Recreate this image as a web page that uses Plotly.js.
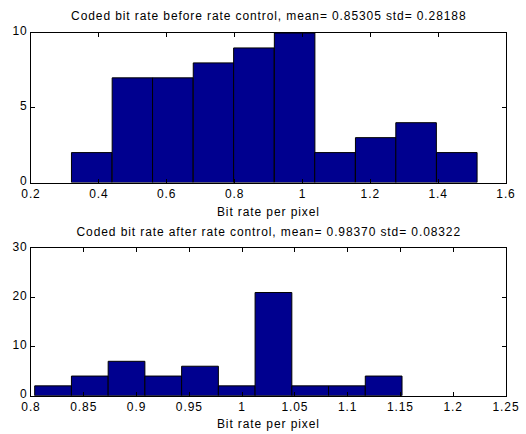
<!DOCTYPE html>
<html>
<head>
<meta charset="utf-8">
<script src="https://cdn.plot.ly/plotly-3.0.1.min.js"></script>
<style>
  html, body { margin: 0; padding: 0; background: #fff; }
  #chart { width: 526px; height: 434px; }
  .main-svg text { letter-spacing: 0.9px; }
</style>
</head>
<body>
<div id="chart"></div>
<script>
// ---- Data ----
// Top histogram: coded bit rate before rate control
var binCentersBefore = [0.379, 0.499, 0.618, 0.738, 0.857, 0.977, 1.096, 1.216, 1.335, 1.455];
var countsBefore     = [2, 7, 7, 8, 9, 10, 2, 3, 4, 2];
var binWidthBefore   = 0.1195;

// Bottom histogram: coded bit rate after rate control
var binCentersAfter = [0.8209, 0.8557, 0.8905, 0.9253, 0.9601, 0.9949, 1.0297, 1.0645, 1.0993, 1.1341];
var countsAfter     = [2, 4, 7, 4, 6, 2, 21, 2, 2, 4];
var binWidthAfter   = 0.0348;

var xTicksBefore  = [0.2, 0.4, 0.6, 0.8, 1.0, 1.2, 1.4, 1.6];
var xLabelsBefore = ["0.2", "0.4", "0.6", "0.8", "1", "1.2", "1.4", "1.6"];
var yTicksBefore  = [0, 5, 10];

var xTicksAfter  = [0.8, 0.85, 0.9, 0.95, 1.0, 1.05, 1.1, 1.15, 1.2, 1.25];
var xLabelsAfter = ["0.8", "0.85", "0.9", "0.95", "1", "1.05", "1.1", "1.15", "1.2", "1.25"];
var yTicksAfter  = [0, 10, 20, 30];

var titleBefore = "Coded bit rate before rate control, mean= 0.85305 std= 0.28188";
var titleAfter  = "Coded bit rate after rate control, mean= 0.98370 std= 0.08322";
var xLabelText  = "Bit rate per pixel";

// ---- Styling ----
var W = 526, H = 434;
var barColor = "#00008F";
var FONT = "Liberation Sans, Arial, Helvetica, sans-serif";
var fnt = {family: FONT, size: 12, color: "#000"};

function px2x(p) { return p / W; }
function px2y(p) { return 1 - p / H; }

var xDom = [px2x(31), px2x(506)];
var yDomTop = [px2y(182.5), px2y(33)];
var yDomBot = [px2y(395.7), px2y(248.3)];

var traces = [
  {
    type: "bar", x: binCentersBefore, y: countsBefore, width: binWidthBefore,
    xaxis: "x", yaxis: "y",
    marker: {color: barColor, line: {color: "#000", width: 1}},
    hoverinfo: "x+y"
  },
  {
    type: "bar", x: binCentersAfter, y: countsAfter, width: binWidthAfter,
    xaxis: "x2", yaxis: "y2",
    marker: {color: barColor, line: {color: "#000", width: 1}},
    hoverinfo: "x+y"
  }
];

function axBase() {
  return {
    showline: true, linecolor: "#000", linewidth: 1, mirror: "allticks",
    ticks: "inside", ticklen: 4, tickwidth: 1, tickcolor: "#000",
    showgrid: false, zeroline: false, fixedrange: true,
    tickfont: fnt
  };
}

var xa1 = Object.assign(axBase(), {
  domain: xDom, anchor: "y", range: [0.2, 1.6],
  tickmode: "array", tickvals: xTicksBefore, ticktext: xLabelsBefore
});
var ya1 = Object.assign(axBase(), {
  domain: yDomTop, anchor: "x", range: [0, 10],
  tickmode: "array", tickvals: yTicksBefore, ticklabelshift: -2
});
var xa2 = Object.assign(axBase(), {
  domain: xDom, anchor: "y2", range: [0.8, 1.25],
  tickmode: "array", tickvals: xTicksAfter, ticktext: xLabelsAfter
});
var ya2 = Object.assign(axBase(), {
  domain: yDomBot, anchor: "x2", range: [0, 30],
  tickmode: "array", tickvals: yTicksAfter, ticklabelshift: -2
});

var cx = (xDom[0] + xDom[1]) / 2;

var layout = {
  width: W, height: H,
  margin: {l: 0, r: 0, t: 0, b: 0, pad: 0},
  paper_bgcolor: "#fff", plot_bgcolor: "#fff",
  showlegend: false, bargap: 0,
  font: fnt,
  xaxis: xa1, yaxis: ya1, xaxis2: xa2, yaxis2: ya2,
  annotations: [
    {text: titleBefore, xref: "paper", yref: "paper", x: cx, y: px2y(16),
     xanchor: "center", yanchor: "middle", showarrow: false, font: fnt},
    {text: xLabelText, xref: "paper", yref: "paper", x: cx, y: px2y(212),
     xanchor: "center", yanchor: "middle", showarrow: false, font: fnt},
    {text: titleAfter, xref: "paper", yref: "paper", x: cx, y: px2y(232),
     xanchor: "center", yanchor: "middle", showarrow: false, font: fnt},
    {text: xLabelText, xref: "paper", yref: "paper", x: cx, y: px2y(424),
     xanchor: "center", yanchor: "middle", showarrow: false, font: fnt}
  ]
};

Plotly.newPlot("chart", traces, layout, {displayModeBar: false, staticPlot: true});
</script>
</body>
</html>
